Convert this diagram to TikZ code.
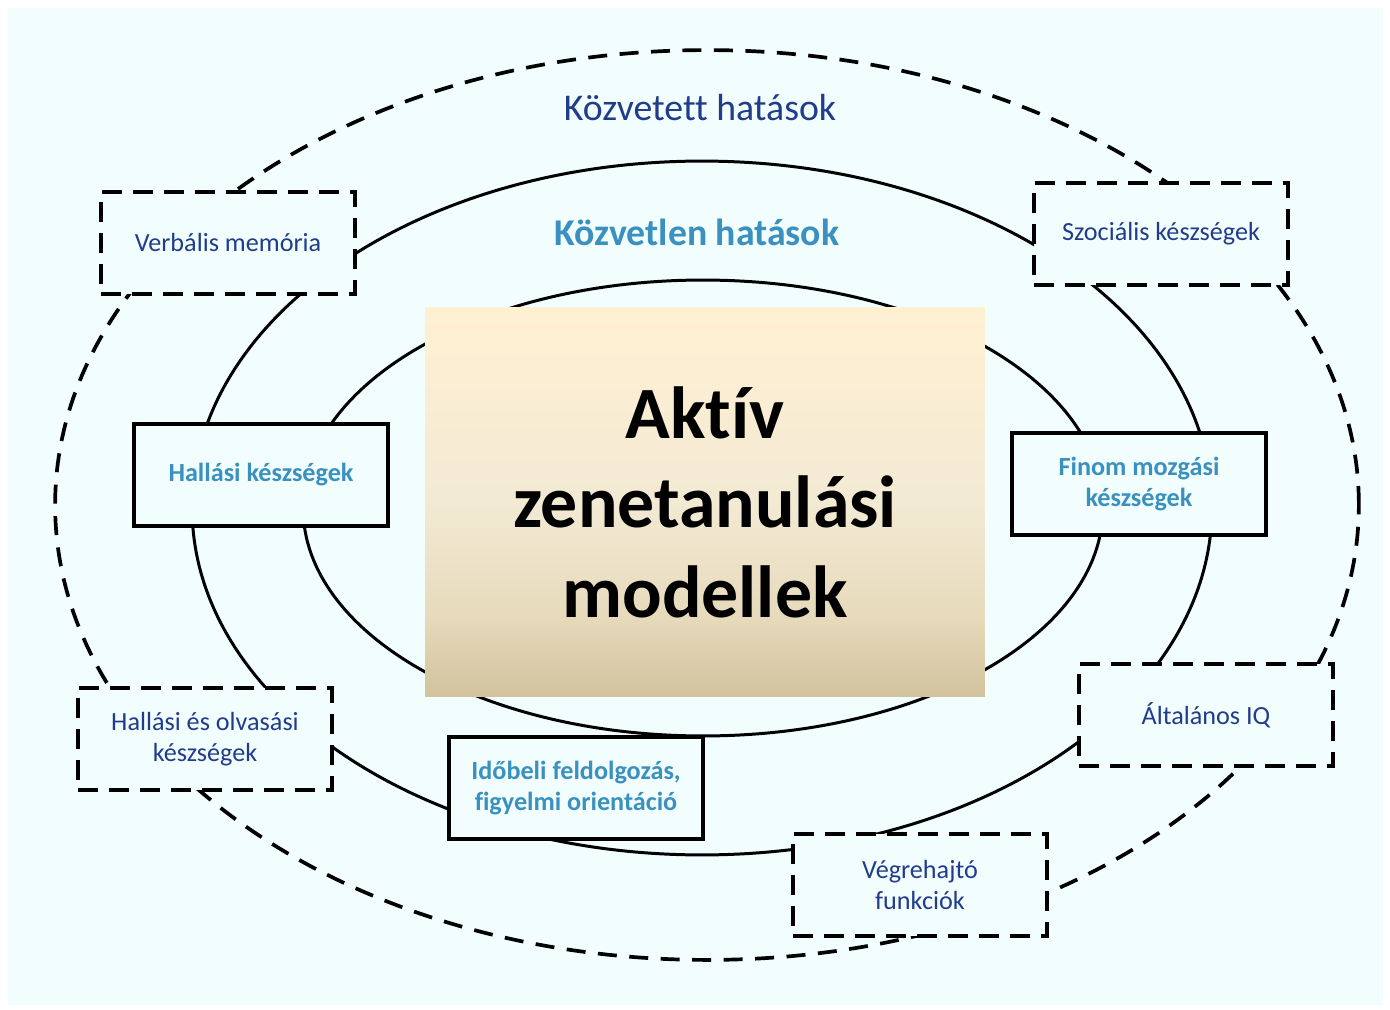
\documentclass[tikz,border=0pt]{standalone}
\usepackage{fontspec}
\setmainfont{Carlito}[Ligatures={NoCommon}]
\definecolor{MusicNavy}{HTML}{203C8A}
\definecolor{MusicTeal}{HTML}{3A91BF}
\definecolor{MusicSky}{HTML}{F2FDFE}
\definecolor{MusicSandTop}{HTML}{FFF0D2}
\definecolor{MusicSandMid}{HTML}{F3EAD4}
\definecolor{MusicSandLow}{HTML}{E6DABB}
\definecolor{MusicSandBottom}{HTML}{D2C29E}
\pgfdeclareverticalshading{sand}{100bp}{color(0bp)=(MusicSandBottom); color(25bp)=(MusicSandBottom); color(35bp)=(MusicSandLow); color(50bp)=(MusicSandMid); color(75bp)=(MusicSandTop); color(100bp)=(MusicSandTop)}
\tikzset{
    % Boxes on the rings
    effect box/.style={
        rectangle,
        fill=MusicSky,
        minimum width=5.08cm,
        minimum height=2.04cm,
        inner sep=2pt,
        align=center,
        font=\fontsize{14.9}{17.6}\selectfont
    },
    indirect box/.style={
        effect box,
        draw=black,
        line width=2.2pt,
        dash pattern=on 0.4cm off 0.22cm,
        text=MusicNavy
    },
    direct box/.style={
        effect box,
        draw=black,
        line width=1.9pt,
        text=MusicTeal,
        font=\fontsize{14.9}{17.6}\selectfont\bfseries
    },
    model box/.style={
        rectangle,
        shading=sand,
        minimum width=11.2cm,
        minimum height=7.78cm,
        align=center,
        font=\fontsize{42}{51}\selectfont\bfseries
    },
    % Rings
    ring/.style={
        draw=black,
        line width=1.7pt
    },
    outer ring/.style={
        draw=black,
        line width=2.1pt,
        dash pattern=on 0.38cm off 0.25cm
    },
    ring label/.style={
        font=\fontsize{21.5}{26}\selectfont
    }
}
\begin{document}
\begin{tikzpicture}[x=0.02cm, y=-0.02cm]
        % Frame
        \useasboundingbox (0,0) rectangle (1390,1010);
        \fill[white] (0,0) rectangle (1390,1010);
        \fill[MusicSky] (8,8) rectangle (1383,1005);

        % Rings
        \draw[outer ring] (707,505) ellipse [x radius=13.04cm, y radius=9.1cm];
        \draw[ring] (702,508) ellipse [x radius=10.2cm, y radius=6.94cm];
        \draw[ring] (703,508) ellipse [x radius=8cm, y radius=4.56cm];

        % Ring labels
        \node[ring label, text=MusicNavy] (indirect-label) at (700,108) {Közvetett hatások};
        \node[ring label, text=MusicTeal, font=\fontsize{21.5}{26}\selectfont\bfseries] (direct-label) at (697,232) {Közvetlen hatások};

        % Centre
        \node[model box] (model) at (705,502) {Aktív\\zenetanulási\\modellek};

        % Direct effects
        \node[direct box] (hearing) at (261,475) {Hallási készségek};
        \node[direct box] (motor) at (1139,484) {Finom mozgási\\készségek};
        \node[direct box] (timing) at (576,788) {Időbeli feldolgozás,\\figyelmi orientáció};

        % Indirect effects
        \node[indirect box] (verbal) at (228,243) {Verbális memória};
        \node[indirect box] (social) at (1161,234) {Szociális készségek};
        \node[indirect box] (reading) at (205,739) {Hallási és olvasási\\készségek};
        \node[indirect box] (iq) at (1206,715) {Általános IQ};
        \node[indirect box] (executive) at (920,885) {Végrehajtó\\funkciók};
    \end{tikzpicture}
\end{document}
